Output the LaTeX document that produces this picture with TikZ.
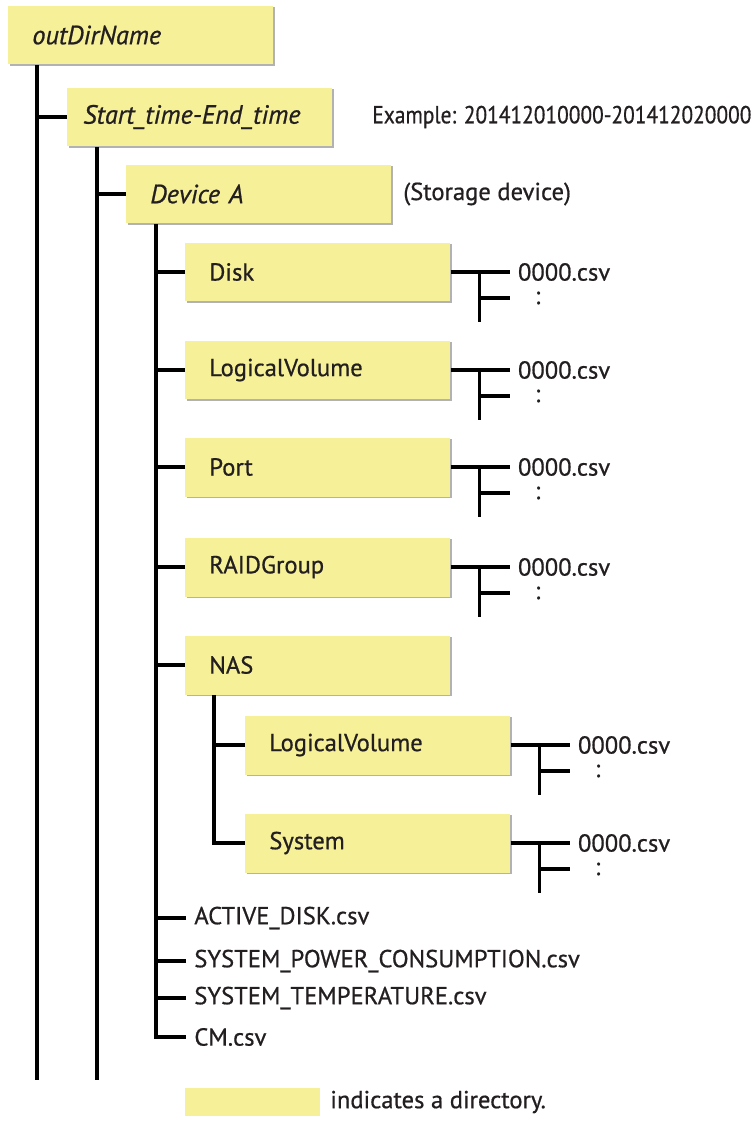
\documentclass[tikz,border=0pt]{standalone}
\usepackage{fontspec}
\setmainfont{PT Sans}[FakeBold=0.7]
\usepackage{xcolor}
\usepackage{tikz}
\usetikzlibrary{shadows}
\definecolor{dircolor}{RGB}{246,240,152}
\definecolor{inkcolor}{RGB}{35,31,32}

\begin{document}
\begin{tikzpicture}[x=0.02cm, y=-0.02cm,
  dir/.style={fill=dircolor, anchor=west, minimum width=5.3cm,
              minimum height=1.18cm, text width=4.34cm, inner xsep=0.48cm,
              align=left, font=\fontsize{14}{16}\selectfont, text=inkcolor,
              drop shadow={shadow xshift=0.7pt, shadow yshift=-0.7pt,
                           fill=black!30, opacity=1}},
  itdir/.style={dir, font=\fontsize{15}{17}\selectfont\itshape},
  file/.style={anchor=west, inner xsep=0.16cm, inner ysep=1pt,
               font=\fontsize{14}{16}\selectfont, text=inkcolor},
  tree/.style={line width=2pt}
]
  \useasboundingbox (0,0) rectangle (755,1146);

  % directories
  \node[itdir] (root) at (8,35) {outDirName};
  \node[itdir, text width=4.66cm, inner xsep=0.32cm] (stime) at (67,117) {Start\_time-End\_time};
  \node[file] (stimenote) at (364,117) {\scalebox{0.87}[1]{Example: 201412010000-201412020000}};
  \node[itdir] (dev) at (126,194) {Device A};
  \node[file] (devnote) at (395,194) {(Storage device)};
  \node[dir] (disk) at (185,272) {Disk};
  \node[dir] (lv)   at (185,370) {LogicalVolume};
  \node[dir] (port) at (185,467) {Port};
  \node[dir] (raid) at (185,567) {RAIDGroup};
  \node[dir] (nas)  at (185,665) {NAS};
  \node[dir] (nlv)  at (245,745) {LogicalVolume};
  \node[dir] (sys)  at (245,843) {System};

  % files below Device A
  \node[file] (active) at (186,918)  {ACTIVE\_DISK.csv};
  \node[file] (power)  at (186,961)  {SYSTEM\_POWER\_CONSUMPTION.csv};
  \node[file] (temp)   at (186,998)  {SYSTEM\_TEMPERATURE.csv};
  \node[file] (cm)     at (186,1037) {CM.csv};

  % trunks
  \coordinate (rootend)  at (37,1080);
  \coordinate (stimeend) at (97,1080);
  \coordinate (devline)  at (156,0);
  \coordinate (nasline)  at (214,0);
  \draw[tree] (root.south -| rootend) -- (rootend);
  \draw[tree] (stime.west) -- (stime.west -| rootend);
  \draw[tree] (stime.south -| stimeend) -- (stimeend);
  \draw[tree] (dev.west) -- (dev.west -| stimeend);
  \draw[tree] (dev.south -| devline) |- (cm.west);
  \foreach \d in {disk,lv,port,raid,nas,active,power,temp}
    \draw[tree] (\d.west) -- (\d.west -| devline);
  \draw[tree] (nas.south -| nasline) |- (sys.west);
  \draw[tree] (nlv.west) -- (nlv.west -| nasline);

  % csv files in each directory
  \foreach \d in {disk,lv,port,raid,nlv,sys} {
    \node[file] (\d-csv) at ([xshift=1.18cm]\d.east) {0000.csv};
    \node[file, anchor=center] (\d-more) at ([xshift=1.74cm, yshift=-0.52cm]\d.east) {:};
    \coordinate (\d-fork) at ([xshift=0.58cm]\d.east);
    \coordinate (\d-forkend) at ([yshift=-1cm]\d-fork);
    \draw[tree] (\d.east) -- (\d-csv.west);
    \draw[tree] (\d-fork) -- (\d-forkend);
    \draw[tree] (\d-fork |- \d-more) -- (\d-csv.west |- \d-more);
  }

  % legend
  \node[fill=dircolor, anchor=west, minimum width=2.7cm, minimum height=0.56cm] (legend) at (185,1102) {};
  \node[file] (legendtext) at (322,1102) {indicates a directory.};
\end{tikzpicture}
\end{document}
